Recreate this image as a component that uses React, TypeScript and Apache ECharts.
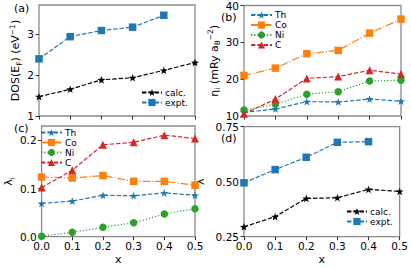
import React, { useEffect, useRef } from "react";
import * as echarts from "echarts";

const xValues = [0.0, 0.1, 0.2, 0.3, 0.4, 0.5];
const xTicks = [0.0, 0.1, 0.2, 0.3, 0.4, 0.5];

// (a) DOS(E_F)
const dosCalc = [1.47, 1.65, 1.88, 1.93, 2.11, 2.3];
const dosExpt = [2.39, 2.93, 3.08, 3.16, 3.45];
const dosTicks = [1, 2, 3];

// (b) eta_i
const etaTh = [11.0, 11.9, 13.9, 13.8, 14.6, 14.0];
const etaCo = [21.0, 23.0, 26.9, 27.8, 32.5, 36.3];
const etaNi = [11.6, 13.2, 15.9, 16.6, 19.5, 19.7];
const etaC = [10.6, 14.6, 20.2, 20.7, 22.4, 21.4];
const etaTicks = [10, 20, 30, 40];

// (c) lambda_i
const lamTh = [0.069, 0.074, 0.086, 0.085, 0.091, 0.086];
const lamCo = [0.124, 0.122, 0.127, 0.115, 0.115, 0.107];
const lamNi = [0.001, 0.009, 0.0195, 0.029, 0.047, 0.058];
const lamC = [0.102, 0.138, 0.191, 0.196, 0.211, 0.204];
const lamTicks = [0.0, 0.1, 0.2];

// (d) lambda
const lamCalc = [0.295, 0.341, 0.424, 0.427, 0.465, 0.456];
const lamExpt = [0.495, 0.555, 0.611, 0.679, 0.682];
const lamTotTicks = [0.25, 0.5, 0.75];

const FONT = "DejaVu Sans";
const BLUE = "#1f77b4";
const ORANGE = "#ff7f0e";
const GREEN = "#2ca02c";
const RED = "#d62728";
const BLACK = "#000000";
const STAR =
  "path://M0,-10 L2.35,-3.24 L9.51,-3.09 L3.8,1.24 L5.88,8.09 L0,4 L-5.88,8.09 L-3.8,1.24 L-9.51,-3.09 L-2.35,-3.24 Z";

const LW = 1.2;
const DASHED = [4.4, 1.9];
const DASHDOT = [7.7, 1.9, 1.2, 1.9];
const DOTTED = [1.2, 2];

const pairs = (ys: number[]) => ys.map((y, i) => [xValues[i], y]);

function mkSeries(
  name: string,
  ys: number[],
  idx: number,
  color: string,
  dash: number[],
  symbol: string,
  size: number
) {
  return {
    type: "line",
    name,
    xAxisIndex: idx,
    yAxisIndex: idx,
    data: pairs(ys),
    symbol,
    symbolSize: size,
    symbolKeepAspect: true,
    showAllSymbol: true,
    clip: true,
    itemStyle: { color, borderWidth: 0 },
    lineStyle: { color, width: LW, type: dash },
    emphasis: { disabled: true },
  };
}

const grids = [
  { left: 39, top: 5, width: 156, height: 111 },
  { left: 244, top: 5, width: 157, height: 111 },
  { left: 39, top: 126, width: 156, height: 110.7 },
  { left: 244, top: 126.7, width: 157, height: 110 },
];

const tickLabelStyle = { fontFamily: FONT, fontSize: 10.5, color: "#000" };
const nameStyle = {
  fontFamily: FONT,
  fontSize: 11,
  color: "#000",
  lineHeight: 15,
  rich: {
    sub: { fontFamily: FONT, fontSize: 7.5, verticalAlign: "bottom", color: "#000" },
    sup: { fontFamily: FONT, fontSize: 7.5, verticalAlign: "top", color: "#000" },
  },
};

function xAxis(idx: number, showLabels: boolean) {
  return {
    type: "value",
    gridIndex: idx,
    min: 0,
    max: 0.5,
    interval: 0.1,
    axisLine: { show: false },
    axisTick: {
      show: true,
      inside: false,
      length: 3.5,
      lineStyle: { color: "#000", width: 0.8 },
      customValues: xTicks,
    },
    axisLabel: {
      show: showLabels,
      margin: 4,
      ...tickLabelStyle,
      customValues: xTicks,
      formatter: (v: number) => v.toFixed(1),
    },
    splitLine: { show: false },
    name: showLabels ? "x" : "",
    nameLocation: "middle",
    nameGap: 17,
    nameTextStyle: { fontFamily: FONT, fontSize: 11, color: "#000" },
  };
}

function yAxis(
  idx: number,
  min: number,
  max: number,
  ticks: number[],
  digits: number,
  name: string,
  gap: number
) {
  return {
    type: "value",
    gridIndex: idx,
    min,
    max,
    axisLine: { show: false },
    axisTick: {
      show: true,
      inside: false,
      length: 3.5,
      lineStyle: { color: "#000", width: 0.8 },
      customValues: ticks,
    },
    axisLabel: {
      margin: 5,
      ...tickLabelStyle,
      customValues: ticks,
      formatter: (v: number) => v.toFixed(digits),
    },
    splitLine: { show: false },
    name,
    nameLocation: "middle",
    nameRotate: 90,
    nameGap: gap,
    nameTextStyle: nameStyle,
  };
}

function legend(names: string[], left: number, top: number) {
  return {
    data: names,
    orient: "vertical",
    left,
    top,
    padding: 0,
    itemWidth: 20,
    itemHeight: 9,
    itemGap: 1,
    selectedMode: false,
    textStyle: { fontFamily: FONT, fontSize: 9, color: "#000", padding: [0, 0, 0, -2] },
  };
}

function panelLabel(text: string, x: number, y: number) {
  return {
    type: "text",
    x,
    y,
    style: {
      text,
      fontFamily: FONT,
      fontSize: 11,
      fill: "#000",
      textAlign: "left",
      textVerticalAlign: "middle",
    },
  };
}

export default function App() {
  const ref = useRef<HTMLDivElement>(null);
  useEffect(() => {
    if (!ref.current) return;
    const chart = echarts.init(ref.current, undefined, { renderer: "svg" });
    const option: any = {
      animation: false,
      backgroundColor: "#ffffff",
      grid: grids.map((g) => ({
        ...g,
        show: true,
        borderColor: "#8a8a8a",
        borderWidth: 1.3,
        backgroundColor: "transparent",
        containLabel: false,
      })),
      xAxis: [xAxis(0, false), xAxis(1, false), xAxis(2, true), xAxis(3, true)],
      yAxis: [
        yAxis(0, 1, 3.7, dosTicks, 0, "DOS(E{sub|F}) (eV{sup|−1})", 14),
        yAxis(1, 10, 40, etaTicks, 0, "η{sub|i} (mRy a{sub|B}{sup|−2})", 19),
        yAxis(2, 0, 0.23, lamTicks, 1, "λ{sub|i}", 24),
        yAxis(3, 0.25, 0.75, lamTotTicks, 2, "λ", 36),
      ],
      legend: [
        legend(["calc.", "expt."], 141, 88),
        { ...legend(["Th", "Co", "Ni", "C"], 250, 10.5), itemWidth: 21 },
        { ...legend(["Th", "Co", "Ni", "C"], 40, 128), itemWidth: 21 },
        legend(["calc.", "expt."], 346, 207),
      ],
      series: [
        mkSeries("calc.", dosCalc, 0, BLACK, DASHED, STAR, 8),
        mkSeries("expt.", dosExpt, 0, BLUE, DASHED, "rect", 7.5),
        mkSeries("Th", etaTh, 1, BLUE, DASHED, STAR, 8),
        mkSeries("Co", etaCo, 1, ORANGE, DASHDOT, "rect", 7.5),
        mkSeries("Ni", etaNi, 1, GREEN, DOTTED, "circle", 7.5),
        mkSeries("C", etaC, 1, RED, DASHED, "triangle", 8),
        mkSeries("Th", lamTh, 2, BLUE, DASHED, STAR, 8),
        mkSeries("Co", lamCo, 2, ORANGE, DASHDOT, "rect", 7.5),
        mkSeries("Ni", lamNi, 2, GREEN, DOTTED, "circle", 7.5),
        mkSeries("C", lamC, 2, RED, DASHED, "triangle", 8),
        mkSeries("calc.", lamCalc, 3, BLACK, DASHED, STAR, 8),
        mkSeries("expt.", lamExpt, 3, BLUE, DASHED, "rect", 7.5),
      ],
      graphic: [
        panelLabel("(a)", 14, 8),
        panelLabel("(b)", 221, 17),
        panelLabel("(c)", 14, 128),
        panelLabel("(d)", 221, 138.5),
      ],
    };
    chart.setOption(option);
    return () => chart.dispose();
  }, []);
  return (
    <div
      ref={ref}
      style={{ width: 411, height: 268, position: "absolute", left: 0, top: 0 }}
    />
  );
}
